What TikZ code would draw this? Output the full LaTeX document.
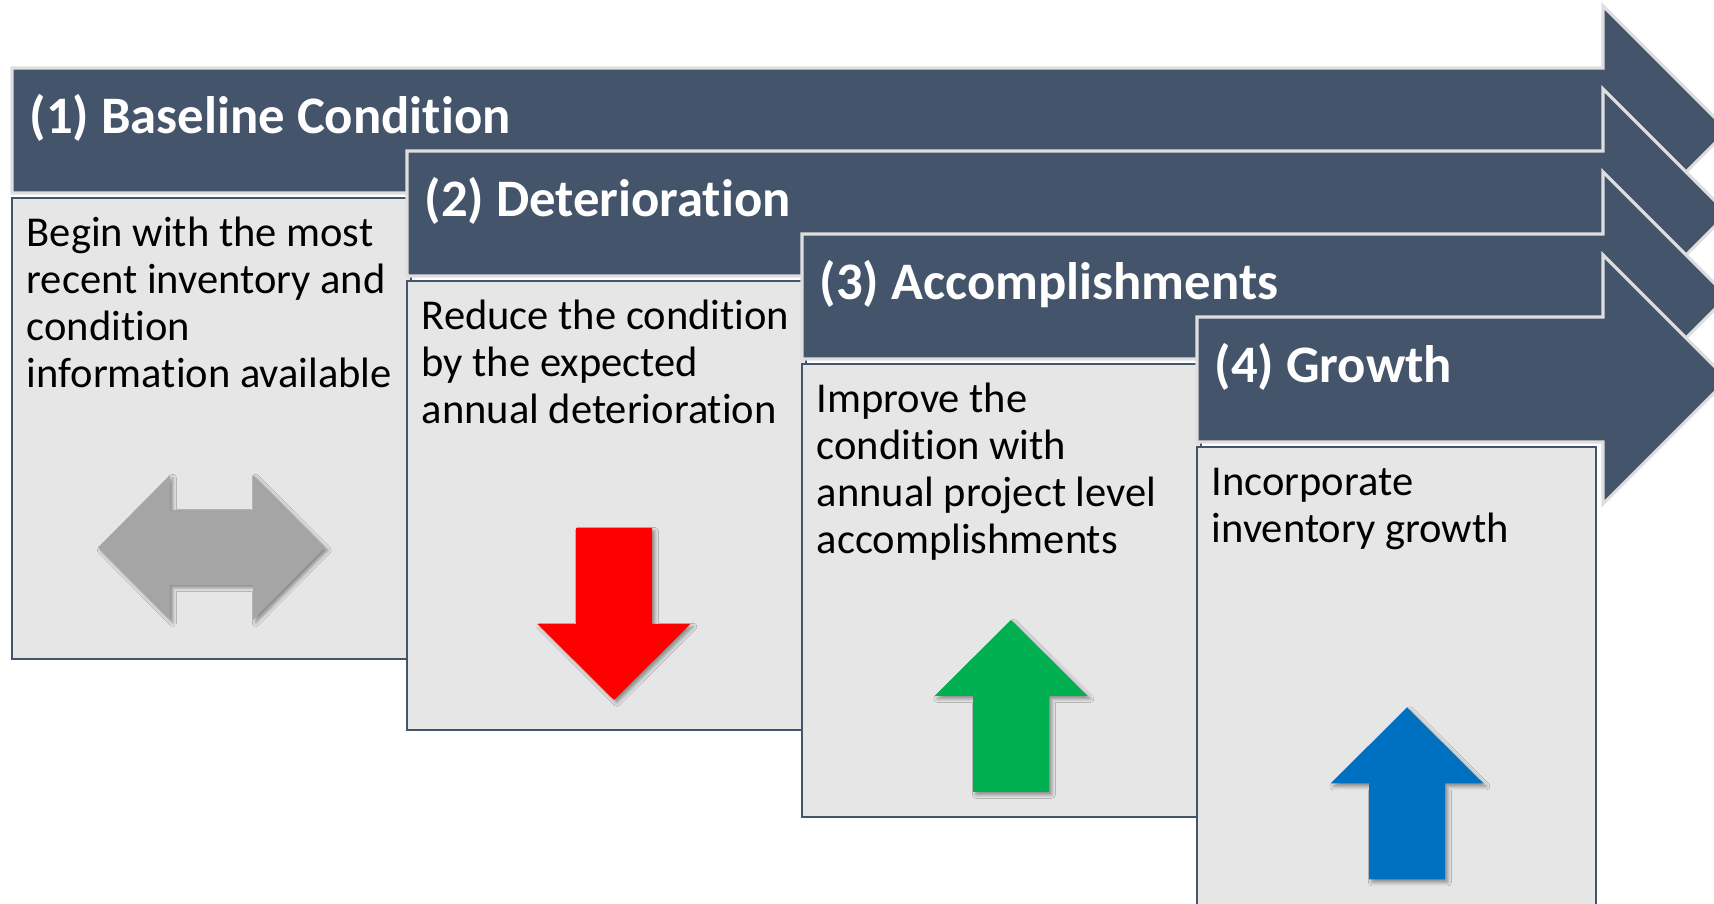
\documentclass[tikz,border=0pt]{standalone}
\usepackage{tikz}
\usepackage{fontspec}
\setmainfont{Carlito}[Ligatures=NoCommon]
\definecolor{slateblue}{RGB}{68,84,106}
\definecolor{boxgray}{RGB}{231,230,230}
\definecolor{edgegray}{RGB}{222,222,222}
\definecolor{arrowgray}{RGB}{165,165,165}
\definecolor{arrowred}{RGB}{255,0,0}
\definecolor{arrowgreen}{RGB}{0,176,80}
\definecolor{arrowblue}{RGB}{0,112,192}
\usetikzlibrary{shadows.blur}

\begin{document}
\begin{tikzpicture}[
    stagearrow/.style={fill=slateblue, draw=edgegray, line width=0.9pt},
    stagebox/.style={fill=boxgray, draw=slateblue, line width=0.6pt},
    stagetitle/.style={anchor=base west, inner sep=0pt, text=white,
      font=\fontsize{15}{18}\selectfont\bfseries},
    stagetext/.style={anchor=base west, inner sep=0pt, align=left,
      font=\fontsize{12.1}{13.4}\selectfont},
    iconshadow/.style={blur shadow={shadow xshift=0.8pt, shadow yshift=-0.8pt,
      shadow blur radius=1pt, shadow opacity=40}}]
    \useasboundingbox (0,0) rectangle (17.14,9.04);
    \clip (0,0) rectangle (17.14,9.04);
    % Stages: banner arrow and box
    \foreach \sx/\sy/\sb in {0.12/8.36/2.45, 4.07/7.53/1.74, 8.02/6.70/0.87, 11.97/5.87/-0.3}{
      \draw[stagearrow] (\sx,\sy) -- (16.03,\sy) -- (16.03,\sy+0.62) -- (17.275,\sy-0.625)
        -- (16.03,\sy-1.87) -- (16.03,\sy-1.25) -- (\sx,\sy-1.25) -- cycle;
      \draw[stagebox] (\sx,\sy-1.30) rectangle (\sx+3.99,\sb);
    }
    % Titles
    \node[stagetitle] (ttl1) at (0.29,7.70) {(1) Baseline Condition};
    \node[stagetitle] (ttl2) at (4.24,6.87) {(2) Deterioration};
    \node[stagetitle] (ttl3) at (8.19,6.04) {(3) Accomplishments};
    \node[stagetitle] (ttl4) at (12.14,5.21) {(4) Growth};
    % Descriptions (anchored on the last line)
    \node[stagetext] (txt1) at (0.26,5.16)
      {Begin with the most\\recent inventory and\\condition\\information available};
    \node[stagetext] (txt2) at (4.21,4.80)
      {Reduce the condition\\by the expected\\annual deterioration};
    \node[stagetext] (txt3) at (8.16,3.50)
      {Improve the\\condition with\\annual project level\\accomplishments};
    \node[stagetext] (txt4) at (12.11,3.61)
      {Incorporate\\inventory growth};
    % Icons
    \fill[arrowgray, iconshadow] (2.115,3.565) ++(-1.135,0) -- ++(0.72,0.725)
      -- ++(0,-0.35) -- ++(0.83,0) -- ++(0,0.35) -- ++(0.72,-0.725)
      -- ++(-0.72,-0.725) -- ++(0,0.35) -- ++(-0.83,0) -- ++(0,-0.35) -- cycle;
    \foreach \cx/\cy/\dir/\col in {6.14/2.90/-1/arrowred, 10.11/1.98/1/arrowgreen,
                                   14.07/1.105/1/arrowblue}
      \fill[\col, iconshadow] (\cx,{\cy+0.86*(\dir)}) -- ++(0.765,{-0.76*(\dir)})
        -- ++(-0.385,0) -- ++(0,{-0.96*(\dir)}) -- ++(-0.76,0)
        -- ++(0,{0.96*(\dir)}) -- ++(-0.385,0) -- cycle;
\end{tikzpicture}
\end{document}
